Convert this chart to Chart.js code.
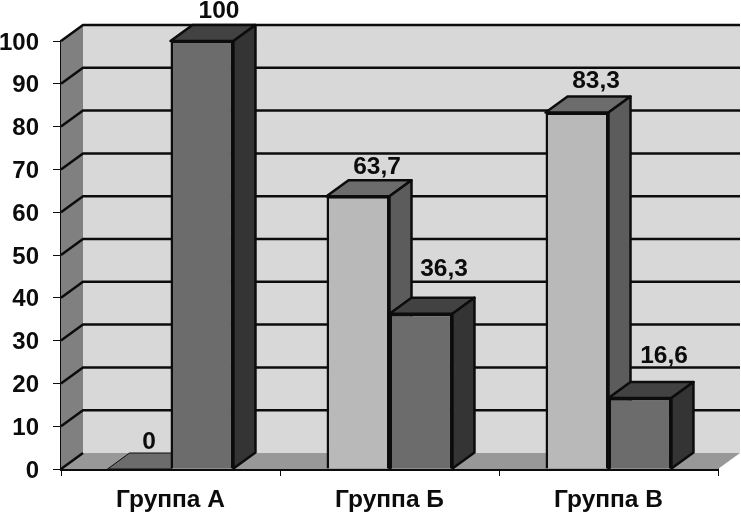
<!DOCTYPE html>
<html>
<head>
<meta charset="utf-8">
<script src="https://cdn.jsdelivr.net/npm/chart.js@4"></script>
<style>
  html, body { margin: 0; padding: 0; background: #fff; }
  canvas { display: block; }
</style>
</head>
<body>
<canvas id="chart" width="741" height="513" style="width:741px;height:513px"></canvas>
<script>
const groups = ["Группа А", "Группа Б", "Группа В"];
const lightSeries = [0, 63.7, 83.3];
const darkSeries = [100, 36.3, 16.6];

const depthX = 22;
const depthY = -16;
const ink = "#0c0c0c";

// top and side shades for each dataset
const sideColors = [
     { top: "#6c6c6c", side: "#5c5c5c" },
     { top: "#424242", side: "#343434" },
];
// value labels don't sit at the same spot on every bar in the original
const labelNudge = [
     [[10, -11], [19, -13], [19, -15]],
     [[17, -14], [23, -28], [24, -26]],
];

function poly(ctx, pts, fill, strokeWidth) {
     ctx.beginPath();
     pts.forEach((p, i) => (i ? ctx.lineTo(p[0], p[1]) : ctx.moveTo(p[0], p[1])));
     ctx.closePath();
     if (fill) {
          ctx.fillStyle = fill;
          ctx.fill();
     }
     if (strokeWidth) {
          ctx.strokeStyle = ink;
          ctx.lineWidth = strokeWidth;
          ctx.stroke();
     }
}

const box3d = {
     id: "box3d",
     beforeDatasetsDraw(chart) {
          const { ctx, scales } = chart;
          const { left, right, top, bottom } = chart.chartArea;
          ctx.save();
          poly(ctx, [[left + depthX, top + depthY], [right + depthX, top + depthY], [right + depthX, bottom + depthY], [left + depthX, bottom + depthY]], "#d8d8d8");
          poly(ctx, [[left, top], [left + depthX, top + depthY], [left + depthX, bottom + depthY], [left, bottom]], "#808080");
          poly(ctx, [[left, bottom], [left + depthX, bottom + depthY], [right + depthX, bottom + depthY], [right, bottom]], "#989898");
          ctx.strokeStyle = ink;
          ctx.lineWidth = 2.5;
          scales.y.ticks.forEach((t) => {
               const y = scales.y.getPixelForValue(t.value);
               ctx.beginPath();
               ctx.moveTo(left, y);
               ctx.lineTo(left + depthX, y + depthY);
               if (t.value > 0) {
                    ctx.lineTo(right + depthX, y + depthY);
               }
               ctx.stroke();
          });
          // y labels sit 2px under their ticks, the axis can't offset them
          ctx.font = "bold 24px 'Liberation Sans'";
          ctx.fillStyle = ink;
          ctx.textAlign = "right";
          ctx.textBaseline = "middle";
          scales.y.ticks.forEach((t) => {
               ctx.fillText(t.label, 39, scales.y.getPixelForValue(t.value) + 2);
          });
          ctx.restore();
     },
     // chart.js paints the last dataset first, but here the right hand bar has to
     // cover the side of its neighbour, so skip that and paint them below
     beforeDatasetDraw() {
          return false;
     },
     afterDatasetsDraw(chart) {
          const { ctx } = chart;
          ctx.save();
          ctx.lineJoin = "round";
          chart.data.datasets.forEach((ds, di) => {
               const shades = sideColors[di];
               chart.getDatasetMeta(di).data.forEach((bar, i) => {
                    const half = bar.width / 2;
                    const l = bar.x - half;
                    const r = bar.x + half;
                    bar.draw(ctx);
                    // a zero bar is only a faint patch on the floor
                    poly(ctx, [[l, bar.y], [l + depthX, bar.y + depthY], [r + depthX, bar.y + depthY], [r, bar.y]], shades.top, ds.data[i] === 0 ? 1 : 2.5);
                    if (ds.data[i] !== 0) {
                         poly(ctx, [[r, bar.y], [r + depthX, bar.y + depthY], [r + depthX, bar.base + depthY], [r, bar.base]], shades.side, 2.5);
                    }
               });
          });
          ctx.font = "bold 24.5px 'Liberation Sans'";
          ctx.fillStyle = ink;
          ctx.textAlign = "center";
          ctx.textBaseline = "middle";
          chart.data.datasets.forEach((ds, di) => {
               chart.getDatasetMeta(di).data.forEach((bar, i) => {
                    const n = labelNudge[di][i];
                    const text = String(ds.data[i]).replace(".", ",");
                    ctx.fillText(text, bar.x + n[0], bar.y + depthY + n[1]);
               });
          });
          ctx.restore();
     },
};

new Chart(document.getElementById("chart").getContext("2d"), {
     type: "bar",
     data: {
          labels: groups,
          datasets: [
               {
                    data: lightSeries,
                    backgroundColor: "#b9b9b9",
                    borderColor: ink,
                    borderWidth: 2.5,
               },
               {
                    data: darkSeries,
                    backgroundColor: "#6c6c6c",
                    borderColor: ink,
                    borderWidth: 2.5,
               },
          ],
     },
     options: {
          responsive: false,
          animation: false,
          devicePixelRatio: 1,
          categoryPercentage: 0.575,
          barPercentage: 1,
          layout: {
               padding: { top: 41, right: 23, bottom: 0, left: 0 },
          },
          plugins: {
               legend: { display: false },
               title: { display: false },
               tooltip: { enabled: false },
          },
          scales: {
               x: {
                    afterFit: (scale) => { scale.height = 44; },
                    border: { color: ink, width: 3 },
                    grid: {
                         drawOnChartArea: false,
                         color: ink,
                         tickLength: 7,
                         lineWidth: 1,
                    },
                    ticks: {
                         color: ink,
                         padding: 10,
                         maxRotation: 0,
                         font: { family: "'Liberation Sans'", size: 24.5, weight: "bold" },
                    },
               },
               y: {
                    min: 0,
                    max: 100,
                    afterFit: (scale) => { scale.width = 61; },
                    border: { color: ink, width: 3 },
                    grid: {
                         drawOnChartArea: false,
                         color: ink,
                         tickLength: 8,
                         lineWidth: 1,
                    },
                    ticks: {
                         stepSize: 10,
                         display: false,
                    },
               },
          },
     },
     plugins: [box3d],
});
</script>
</body>
</html>
